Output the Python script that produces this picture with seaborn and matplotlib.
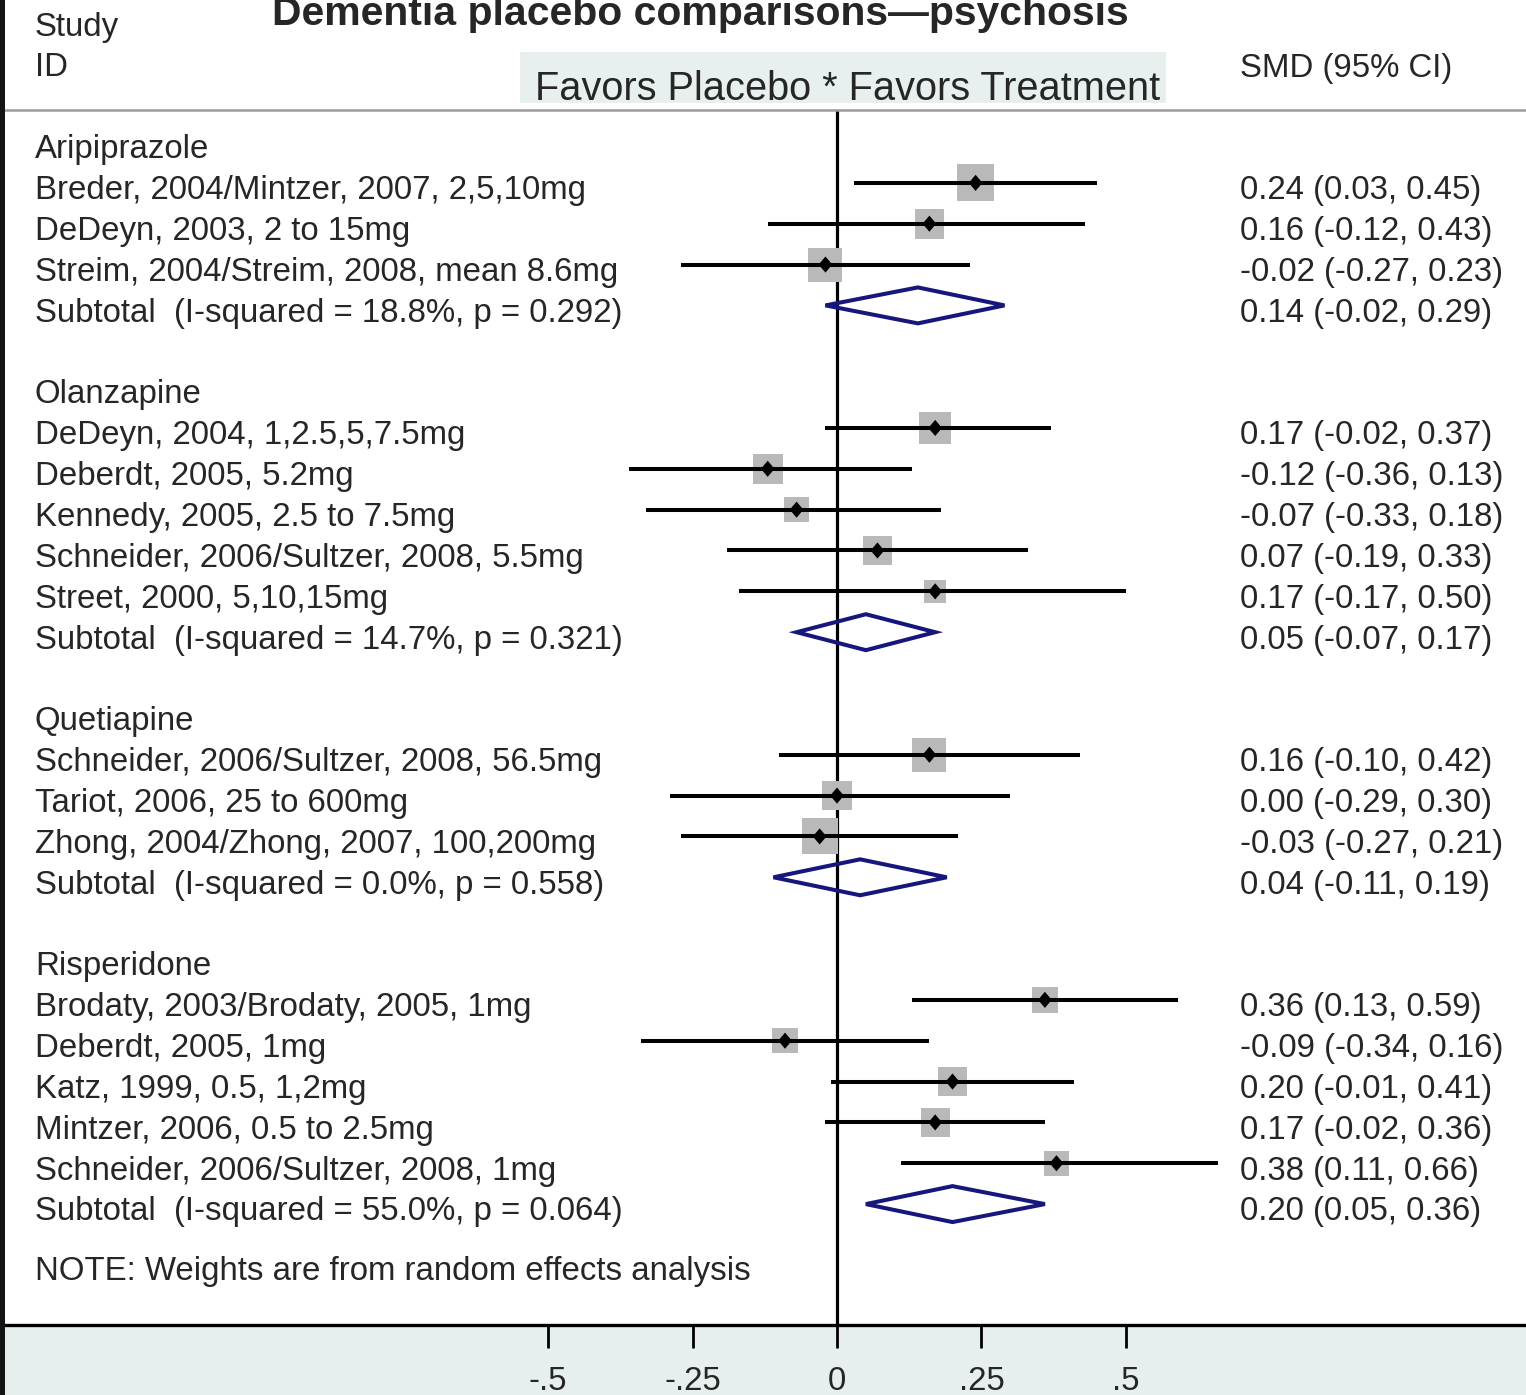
import matplotlib
matplotlib.use("Agg")
import matplotlib.pyplot as plt
from matplotlib.patches import Polygon, Rectangle
from matplotlib.path import Path
from matplotlib.markers import MarkerStyle
import pandas as pd
import seaborn as sns

# ---------------------------------------------------------------- data
drugs = ["Aripiprazole", "Olanzapine", "Quetiapine", "Risperidone"]

study_drug = ["Aripiprazole"] * 3 + ["Olanzapine"] * 5 + ["Quetiapine"] * 3 + ["Risperidone"] * 5
study_ids = [
    "Breder, 2004/Mintzer, 2007, 2,5,10mg",
    "DeDeyn, 2003, 2 to 15mg",
    "Streim, 2004/Streim, 2008, mean 8.6mg",
    "DeDeyn, 2004, 1,2.5,5,7.5mg",
    "Deberdt, 2005, 5.2mg",
    "Kennedy, 2005, 2.5 to 7.5mg",
    "Schneider, 2006/Sultzer, 2008, 5.5mg",
    "Street, 2000, 5,10,15mg",
    "Schneider, 2006/Sultzer, 2008, 56.5mg",
    "Tariot, 2006, 25 to 600mg",
    "Zhong, 2004/Zhong, 2007, 100,200mg",
    "Brodaty, 2003/Brodaty, 2005, 1mg",
    "Deberdt, 2005, 1mg",
    "Katz, 1999, 0.5, 1,2mg",
    "Mintzer, 2006, 0.5 to 2.5mg",
    "Schneider, 2006/Sultzer, 2008, 1mg",
]
study_smd = [0.24, 0.16, -0.02, 0.17, -0.12, -0.07, 0.07, 0.17, 0.16, 0.00, -0.03, 0.36, -0.09, 0.20, 0.17, 0.38]
study_lo = [0.03, -0.12, -0.27, -0.02, -0.36, -0.33, -0.19, -0.17, -0.10, -0.29, -0.27, 0.13, -0.34, -0.01, -0.02, 0.11]
study_hi = [0.45, 0.43, 0.23, 0.37, 0.13, 0.18, 0.33, 0.50, 0.42, 0.30, 0.21, 0.59, 0.16, 0.41, 0.36, 0.66]
# random-effects weights (%), box area is proportional to weight
study_weight = [9.7, 6.2, 8.1, 7.1, 6.2, 4.5, 5.8, 3.5, 8.1, 6.2, 9.1, 4.9, 4.5, 5.8, 5.8, 4.5]

subtotal_smd = [0.14, 0.05, 0.04, 0.20]
subtotal_lo = [-0.02, -0.07, -0.11, 0.05]
subtotal_hi = [0.29, 0.17, 0.19, 0.36]
subtotal_i2 = [18.8, 14.7, 0.0, 55.0]
subtotal_p = [0.292, 0.321, 0.558, 0.064]

tick_values = [-0.5, -0.25, 0, 0.25, 0.5]
tick_labels = ["-.5", "-.25", "0", ".25", ".5"]

# ---------------------------------------------------------------- layout
W, H = 1526, 1395
ROW0_PX, ROW_PX = 142.0, 40.85          # pixel y of row 0 and row pitch
X0_PX, UNIT_PX = 837.0, 577.5           # pixel x of SMD 0 and pixels per SMD unit
AX_TOP_PX, AX_BOT_PX = 110.0, 1325.0

def row_of(py):
    return (py - ROW0_PX) / ROW_PX

def fx(px):
    return px / W

def fy(py):
    return 1 - py / H

# assign rows: header, studies, subtotal, blank
rows_study, rows_header, rows_sub = [], [], []
r = 0
for d in drugs:
    rows_header.append(r)
    r += 1
    for sd in study_drug:
        if sd == d:
            rows_study.append(r)
            r += 1
    rows_sub.append(r)
    r += 2

df = pd.DataFrame({
    "drug": study_drug, "label": study_ids, "smd": study_smd,
    "lo": study_lo, "hi": study_hi, "weight": study_weight, "row": rows_study,
})

# ---------------------------------------------------------------- style
sns.set_theme(style="white")
plt.rcParams["font.family"] = ["Liberation Sans", "DejaVu Sans"]
FS = 23.8
NAVY = "#16167c"

fig = plt.figure(figsize=(W / 100, H / 100), dpi=100, facecolor="white")
# shaded band under the axis
fig.add_artist(Rectangle((0, 0), 1, fy(AX_BOT_PX), transform=fig.transFigure,
                         facecolor="#e6efee", edgecolor="none", zorder=0))
ax = fig.add_axes([0, fy(AX_BOT_PX), 1, (AX_BOT_PX - AX_TOP_PX) / H])
ax.set_facecolor("white")
ax.set_xlim((0 - X0_PX) / UNIT_PX, (W - X0_PX) / UNIT_PX)
ax.set_ylim(row_of(AX_BOT_PX), row_of(AX_TOP_PX))

# null line
ax.axvline(0, color="black", lw=2.3, zorder=0.5)

# weight boxes
sns.scatterplot(data=df, x="smd", y="row", size="weight", sizes=(0, 740),
                size_norm=(0, 10), marker="s", color="#b9b9b9", edgecolor="none",
                linewidth=0, legend=False, ax=ax, zorder=1)
# confidence intervals
ax.hlines(df["row"], df["lo"], df["hi"], color="black", lw=2.9, zorder=2)
# point estimates
diamond = MarkerStyle(Path([(0, 1), (0.85, 0), (0, -1), (-0.85, 0), (0, 1)],
                           [Path.MOVETO, Path.LINETO, Path.LINETO, Path.LINETO, Path.CLOSEPOLY]))
sns.scatterplot(data=df, x="smd", y="row", marker=diamond, s=135, color="black",
                edgecolor="none", linewidth=0, legend=False, ax=ax, zorder=3)

# pooled estimates
half = 0.44
for rs, m, lo, hi in zip(rows_sub, subtotal_smd, subtotal_lo, subtotal_hi):
    ax.add_patch(Polygon([(lo, rs), (m, rs - half), (hi, rs), (m, rs + half)],
                         closed=True, fill=False, edgecolor=NAVY, lw=2.9,
                         joinstyle="miter", zorder=3))

# text columns
tr = ax.get_yaxis_transform()
BASE = 0.40
left_x, right_x = fx(35), fx(1240)
for rh, d in zip(rows_header, drugs):
    ax.text(left_x, rh + BASE, d, transform=tr, fontsize=FS, va="baseline", ha="left")
for _, s in df.iterrows():
    ax.text(left_x, s["row"] + BASE, s["label"], transform=tr, fontsize=FS, va="baseline")
    ax.text(right_x, s["row"] + BASE, f"{s['smd']:.2f} ({s['lo']:.2f}, {s['hi']:.2f})",
            transform=tr, fontsize=FS, va="baseline")
for rs, m, lo, hi, i2, p in zip(rows_sub, subtotal_smd, subtotal_lo, subtotal_hi,
                                subtotal_i2, subtotal_p):
    ax.text(left_x, rs + BASE, f"Subtotal  (I-squared = {i2:.1f}%, p = {p:.3f})",
            transform=tr, fontsize=FS, va="baseline")
    ax.text(right_x, rs + BASE, f"{m:.2f} ({lo:.2f}, {hi:.2f})",
            transform=tr, fontsize=FS, va="baseline")
ax.text(left_x, row_of(1264) + BASE, "NOTE: Weights are from random effects analysis",
        transform=tr, fontsize=FS, va="baseline")

# axes frame and ticks
for side in ("left", "right"):
    ax.spines[side].set_visible(False)
ax.spines["bottom"].set_color("black")
ax.spines["bottom"].set_linewidth(2.4)
ax.spines["top"].set_color("#9c9c9c")
ax.spines["top"].set_linewidth(1.8)
ax.set_xticks(tick_values)
ax.set_xticklabels(tick_labels)
ax.set_yticks([])
ax.set_xlabel("")
ax.set_ylabel("")
ax.tick_params(axis="x", direction="out", length=16.5, width=2.0, color="black",
               pad=13, labelsize=FS, bottom=True)

# header
fig.add_artist(Rectangle((fx(520), fy(103)), fx(1166) - fx(520), (103 - 52) / H,
                         transform=fig.transFigure, facecolor="#e8f0ef",
                         edgecolor="none", zorder=1))
fig.text(fx(272), fy(25), "Dementia placebo comparisons\u2014psychosis",
         fontsize=29.4, fontweight="bold", va="baseline", ha="left")
fig.text(fx(35), fy(36), "Study", fontsize=FS, va="baseline")
fig.text(fx(35), fy(76), "ID", fontsize=FS, va="baseline")
fig.text(fx(1240), fy(77), "SMD (95% CI)", fontsize=FS, va="baseline")
fig.text(fx(535), fy(100), "Favors Placebo * Favors Treatment", fontsize=28.6,
         va="baseline", zorder=2)

# dark left edge
fig.add_artist(Rectangle((0, 0), fx(5), 1, transform=fig.transFigure,
                         facecolor="#141414", edgecolor="none", zorder=10))

fig.savefig("out.png", dpi=100, facecolor=fig.get_facecolor())
